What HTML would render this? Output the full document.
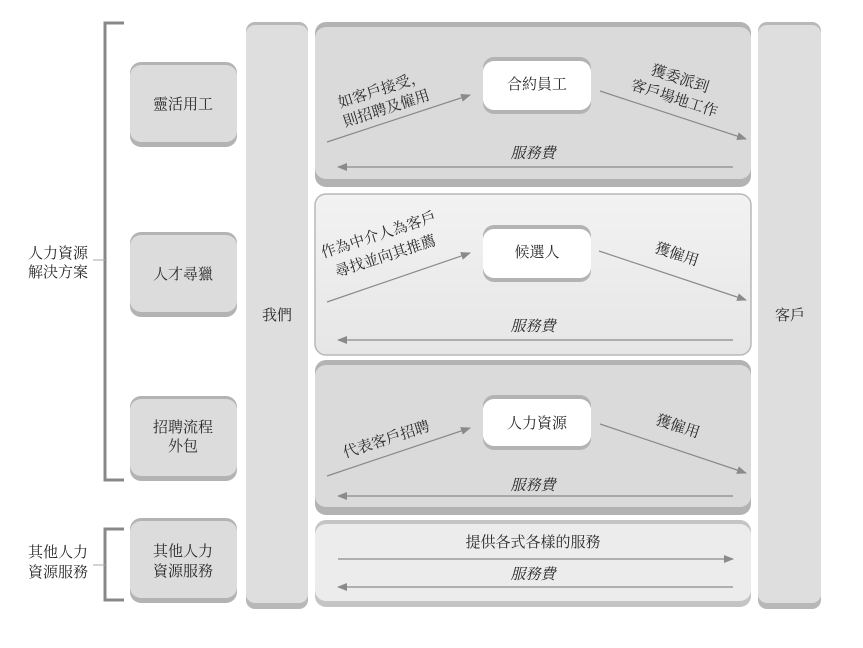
<!DOCTYPE html>
<html><head><meta charset="utf-8"><style>
html,body{margin:0;padding:0;background:#fff;}
svg text{font-family:"Liberation Serif","Noto Serif CJK SC","Noto Sans CJK TC",serif;fill:#2a2a2a;}
</style></head><body>
<svg width="863" height="643" viewBox="0 0 863 643" xmlns="http://www.w3.org/2000/svg">
<defs>
<marker id="ah" markerWidth="10" markerHeight="8" refX="9" refY="4" orient="auto" markerUnits="userSpaceOnUse">
<path d="M0,0 L10,4 L0,8 Z" fill="#8a8a8a"/></marker>
<linearGradient id="lg" x1="0" y1="0" x2="0" y2="1"><stop offset="0" stop-color="#f2f2f2"/><stop offset="1" stop-color="#e6e6e6"/></linearGradient>
</defs>
<g stroke="#888" stroke-width="3" fill="none">
<path d="M124,23 H105 V480 H124"/>
<path d="M124,529 H105 V600 H124"/>
</g>
<g stroke="#aaa" stroke-width="1"><line x1="93" y1="260" x2="105" y2="260"/><line x1="93" y1="565" x2="105" y2="565"/></g>
<g font-size="15" text-anchor="middle">
<text x="58" y="258">人力資源</text>
<text x="58" y="277">解決方案</text>
<text x="58" y="557">其他人力</text>
<text x="58" y="577">資源服務</text>
</g>

<g>
<rect x="130" y="62" width="107" height="85" rx="11" fill="#b3b3b3"/><rect x="130" y="65" width="107" height="77" rx="11" fill="#dcdcdc"/>
<rect x="130" y="232" width="107" height="85" rx="11" fill="#b3b3b3"/><rect x="130" y="235" width="107" height="77" rx="11" fill="#dcdcdc"/>
<rect x="130" y="396" width="107" height="85" rx="11" fill="#b3b3b3"/><rect x="130" y="399" width="107" height="77" rx="11" fill="#dcdcdc"/>
<rect x="130" y="518" width="107" height="85" rx="11" fill="#b3b3b3"/><rect x="130" y="521" width="107" height="77" rx="11" fill="#dcdcdc"/>
</g>
<g font-size="15" text-anchor="middle">
<text x="183" y="109">靈活用工</text>
<text x="183" y="279">人才尋獵</text>
<text x="183" y="432">招聘流程</text>
<text x="183" y="451">外包</text>
<text x="183" y="556">其他人力</text>
<text x="183" y="576">資源服務</text>
</g>

<rect x="246" y="22" width="62" height="587" rx="9" fill="#b8b8b8"/><rect x="246" y="25" width="62" height="578" rx="9" fill="#dedede"/>
<text x="277" y="320" font-size="15" text-anchor="middle">我們</text>
<rect x="758" y="22" width="63" height="587" rx="9" fill="#b8b8b8"/><rect x="758" y="25" width="63" height="578" rx="9" fill="#dedede"/>
<text x="790" y="320" font-size="15" text-anchor="middle">客戶</text>

<rect x="315" y="22" width="436" height="165" rx="11" fill="#b3b3b3"/><rect x="315" y="27" width="436" height="152" rx="11" fill="#dadada"/>
<rect x="315" y="194" width="436" height="161" rx="11" fill="url(#lg)" stroke="#b8b8b8" stroke-width="1.5"/>
<rect x="315" y="360" width="436" height="155" rx="11" fill="#b3b3b3"/><rect x="315" y="365" width="436" height="142" rx="11" fill="#dadada"/>
<rect x="315" y="520" width="436" height="87" rx="11" fill="#c4c4c4"/><rect x="315" y="524" width="436" height="77" rx="11" fill="#ececec"/>

<rect x="483" y="57" width="108" height="57" rx="11" fill="#b3b3b3"/><rect x="483" y="61" width="108" height="49" rx="11" fill="#fff"/>
<rect x="483" y="225" width="108" height="57" rx="11" fill="#b3b3b3"/><rect x="483" y="229" width="108" height="49" rx="11" fill="#fff"/>
<rect x="483" y="395" width="108" height="55" rx="11" fill="#b3b3b3"/><rect x="483" y="399" width="108" height="47" rx="11" fill="#fff"/>
<g font-size="15" text-anchor="middle">
<text x="537" y="89">合約員工</text>
<text x="537" y="257">候選人</text>
<text x="537" y="428">人力資源</text>
</g>

<g stroke="#8a8a8a" stroke-width="1.2" fill="none" marker-end="url(#ah)">
<line x1="327" y1="142" x2="470" y2="95"/><line x1="600" y1="91" x2="746" y2="139"/><line x1="733" y1="167" x2="338" y2="167"/>
<line x1="327" y1="302" x2="470" y2="253"/><line x1="599" y1="251" x2="746" y2="300"/><line x1="733" y1="340" x2="338" y2="340"/>
<line x1="327" y1="476" x2="470" y2="428"/><line x1="600" y1="424" x2="746" y2="473"/><line x1="733" y1="496" x2="338" y2="496"/>
<line x1="338" y1="559" x2="733" y2="559"/><line x1="733" y1="587" x2="338" y2="587"/>
</g>

<g font-size="15">
<text transform="translate(340,108) rotate(-18)">如客戶接受，</text>
<text transform="translate(345,127) rotate(-18)">則招聘及僱用</text>
<text transform="translate(650,74) rotate(18)">獲委派到</text>
<text transform="translate(630,89) rotate(18)">客戶場地工作</text>
<text transform="translate(323,258) rotate(-18)">作為中介人為客戶</text>
<text transform="translate(337,277) rotate(-18)">尋找並向其推薦</text>
<text transform="translate(654,252) rotate(18)">獲僱用</text>
<text transform="translate(345,458) rotate(-18)">代表客戶招聘</text>
<text transform="translate(655,424) rotate(18)">獲僱用</text>
<text x="533" y="547" text-anchor="middle">提供各式各樣的服務</text>
</g>
<g font-size="15" font-style="italic" text-anchor="middle">
<text x="533" y="158">服務費</text>
<text x="533" y="331">服務費</text>
<text x="533" y="490">服務費</text>
<text x="533" y="579">服務費</text>
</g>
</svg>
</body></html>
